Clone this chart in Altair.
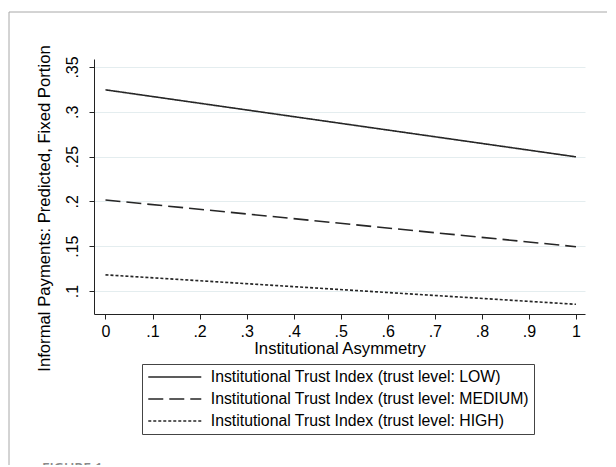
import altair as alt
import pandas as pd

# ---- data ----
asym = [0.0, 1.0]
low = [0.3245, 0.2497]
medium = [0.2016, 0.1494]
high = [0.1180, 0.0851]
series = [
    "Institutional Trust Index (trust level: LOW)",
    "Institutional Trust Index (trust level: MEDIUM)",
    "Institutional Trust Index (trust level: HIGH)",
]
x_ticks = [0, 0.1, 0.2, 0.3, 0.4, 0.5, 0.6, 0.7, 0.8, 0.9, 1]
y_ticks = [0.1, 0.15, 0.2, 0.25, 0.3, 0.35]
caption = ["FIGURE 1"]

rows = []
for name, vals in zip(series, [low, medium, high]):
    for xv, yv in zip(asym, vals):
        rows.append({"asym": xv, "pred": yv, "series": name})
df = pd.DataFrame(rows)

FONT = "Liberation Sans"
INK = "#262626"

x_label = "datum.value == 0 ? '0' : datum.value == 1 ? '1' : replace(format(datum.value, '.1f'), '0.', '.')"
y_label = "replace(format(datum.value, '.2~f'), '0.', '.')"

lines = alt.Chart(df).mark_line(strokeWidth=1.6, color=INK).encode(
    x=alt.X(
        "asym:Q",
        scale=alt.Scale(domain=[-0.0244, 1.0192], nice=False, zero=False),
        axis=alt.Axis(
            title="Institutional Asymmetry",
            values=x_ticks,
            labelExpr=x_label,
            grid=False,
            tickSize=5,
            labelPadding=4,
            titlePadding=1,
        ),
    ),
    y=alt.Y(
        "pred:Q",
        scale=alt.Scale(domain=[0.0743, 0.3589], nice=False, zero=False),
        axis=alt.Axis(
            title="Informal Payments: Predicted, Fixed Portion",
            values=y_ticks,
            labelExpr=y_label,
            grid=True,
            gridColor="#e4edef",
            gridWidth=1,
            tickSize=5,
            labelAngle=270,
            labelAlign="center",
            labelBaseline="alphabetic",
            labelPadding=12,
            titleAngle=270,
            titleX=-45,
            titleY=149,
            titleAlign="center",
            titleBaseline="alphabetic",
        ),
    ),
    strokeDash=alt.StrokeDash(
        "series:N",
        sort=series,
        scale=alt.Scale(domain=series, range=[[1, 0], [15, 6], [3, 2]]),
        legend=alt.Legend(
            title=None,
            orient="none",
            legendX=48,
            legendY=305,
            direction="vertical",
            symbolType="M-1,0H7",
            symbolSize=175.6,
            symbolStrokeWidth=1.5,
            symbolStrokeColor=INK,
            labelFontSize=15.8,
            labelFont=FONT,
            labelColor="#000000",
            labelLimit=400,
            labelOffset=48,
            rowPadding=5,
            padding=5,
            strokeColor="#444444",
            fillColor="#ffffff",
        ),
    ),
)

one = pd.DataFrame({"k": [0]})
frame_top = alt.Chart(one).mark_rule(color="#a8a8a8", strokeWidth=1).encode(
    x=alt.value(-85), x2=alt.value(540), y=alt.value(-47)
)
frame_left = alt.Chart(one).mark_rule(color="#a8a8a8", strokeWidth=1).encode(
    x=alt.value(-85), y=alt.value(-47), y2=alt.value(420)
)
cap = alt.Chart(pd.DataFrame({"t": caption})).mark_text(
    font="Open Sans", fontSize=14, fontWeight=600, color="#8a8a8a",
    align="left", baseline="top",
).encode(text="t:N", x=alt.value(-52), y=alt.value(403))

chart = (
    alt.layer(frame_top, frame_left, cap, lines)
    .properties(
        width=491,
        height=255,
        autosize=alt.AutoSizeParams(type="none"),
        padding={"left": 86, "top": 51, "right": 22, "bottom": 151},
        background="#ffffff",
    )
    .configure_view(stroke=None)
    .configure_axis(
        labelFont=FONT,
        titleFont=FONT,
        labelFontSize=16,
        titleFontSize=16.7,
        titleFontWeight="normal",
        labelColor="#000000",
        titleColor="#000000",
        domainColor="#222222",
        tickColor="#222222",
        domainWidth=1,
        tickWidth=1,
    )
)

chart.save("out.html", embed_options={"renderer": "svg", "actions": False})
